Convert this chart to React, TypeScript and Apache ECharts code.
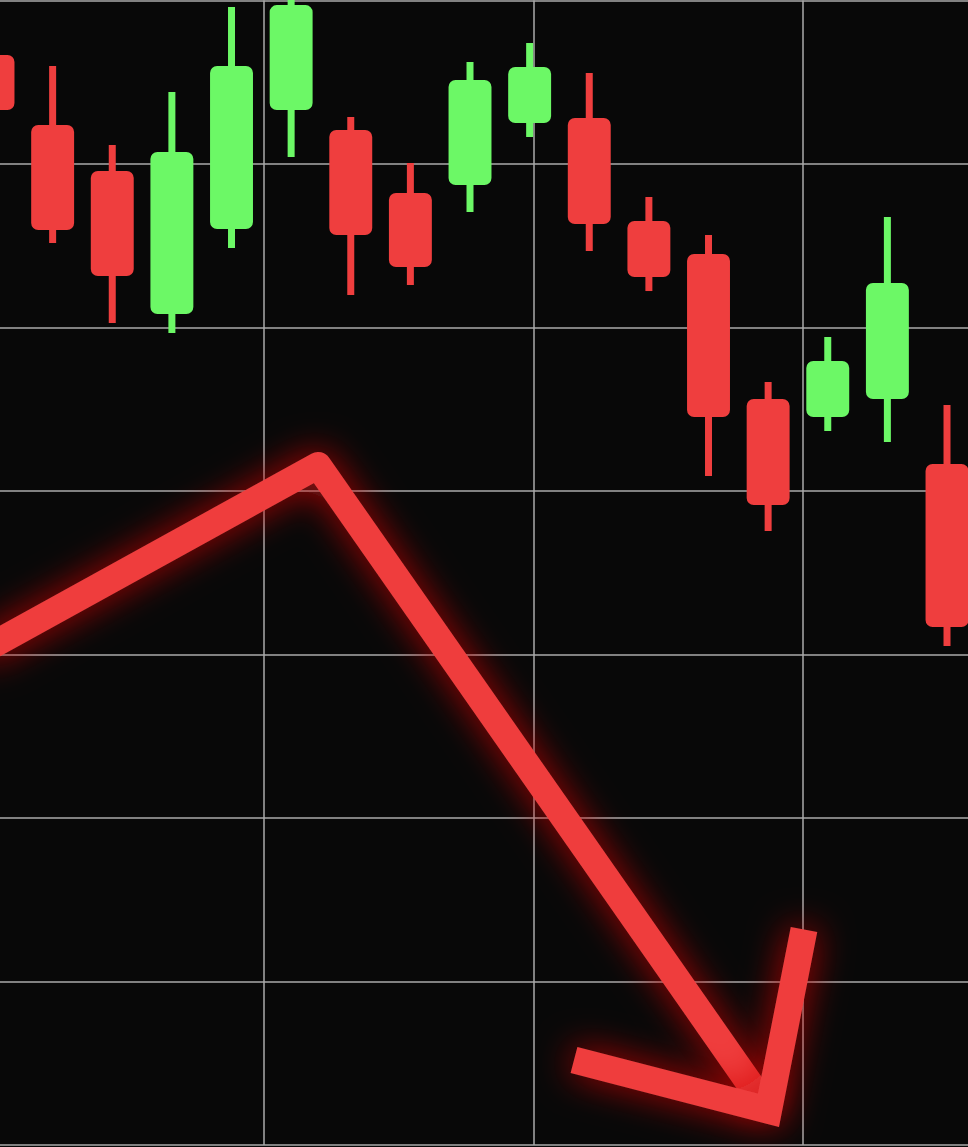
import React, { useEffect, useRef } from "react";
import * as echarts from "echarts";

// Candles: [open, close, low, high]
const categories = ["1", "2", "3", "4", "5", "6", "7", "8", "9", "10", "11", "12", "13", "14", "15", "16", "17"];
const opens = [96.67, 92.39, 89.57, 80.83, 86.02, 93.3, 92.08, 88.23, 88.72, 92.51, 92.81, 86.51, 84.5, 75.63, 74.53, 75.63, 71.65];
const closes = [93.3, 85.96, 83.15, 90.73, 95.99, 99.72, 85.66, 83.7, 95.14, 95.93, 86.33, 83.09, 74.53, 69.14, 77.95, 82.72, 61.68];
const lows = [92.69, 85.17, 80.28, 79.66, 84.86, 90.43, 81.99, 82.6, 87.06, 91.65, 84.68, 82.23, 70.92, 67.55, 73.67, 73.0, 60.52];
const highs = [97.28, 95.99, 91.16, 94.4, 99.6, 100.4, 92.87, 90.06, 96.24, 97.4, 95.57, 87.98, 85.66, 76.67, 79.42, 86.76, 75.26];

const RED = "#ef3e3e";
const GREEN = "#6cf866";
const BG = "#080808";
const GRIDLINE = "#aaaaaa";

// Decorative arrow (annotation, pixel space)
const arrowShaft = [
  [-20, 652],
  [318, 465.5],
  [760.5, 1098.9],
];
const arrowHead = [
  [574, 1060],
  [768.5, 1110.4],
  [804, 929.5],
];

export default function App() {
  const ref = useRef<HTMLDivElement>(null);

  useEffect(() => {
    if (!ref.current) return;
    const chart = echarts.init(ref.current, null, { renderer: "svg" });
    const data = categories.map((_, i) => [i, opens[i], closes[i], lows[i], highs[i]]);

    const band = 59.625;
    const glow = {
      shadowBlur: 36,
      shadowColor: "rgba(210,10,10,0.85)",
    };

    chart.setOption({
      animation: false,
      backgroundColor: BG,
      grid: [
        { left: -36.8, top: 0.5, width: band * 17, height: 1144.5, outerBoundsMode: "none", containLabel: false },
        { left: -5.5, top: 0.5, width: 1078, height: 1144.5, outerBoundsMode: "none", containLabel: false },
      ],
      xAxis: [
        {
          type: "category",
          gridIndex: 0,
          data: categories,
          boundaryGap: true,
          show: false,
        },
        {
          type: "value",
          gridIndex: 1,
          min: 0,
          max: 4,
          interval: 1,
          axisLine: { show: false },
          axisTick: { show: false },
          axisLabel: { show: false },
          splitLine: { show: true, lineStyle: { color: GRIDLINE, width: 1.5 } },
        },
      ],
      yAxis: [
        {
          type: "value",
          gridIndex: 0,
          min: 30,
          max: 100,
          show: false,
          splitLine: { show: false },
        },
        {
          type: "value",
          gridIndex: 1,
          min: 0,
          max: 7,
          interval: 1,
          axisLine: { show: false },
          axisTick: { show: false },
          axisLabel: { show: false },
          splitLine: { show: true, lineStyle: { color: GRIDLINE, width: 1.5 } },
        },
      ],
      series: [
        {
          type: "custom",
          xAxisIndex: 0,
          yAxisIndex: 0,
          clip: false,
          z: 5,
          data,
          encode: { x: 0, y: [1, 2, 3, 4] },
          renderItem: (params: any, api: any) => {
            const x = api.value(0);
            const open = api.value(1);
            const close = api.value(2);
            const low = api.value(3);
            const high = api.value(4);
            const pO = api.coord([x, open]);
            const pC = api.coord([x, close]);
            const pL = api.coord([x, low]);
            const pH = api.coord([x, high]);
            const bw = api.size([1, 0])[0] * 0.72;
            const ww = 7;
            const color = close >= open ? GREEN : RED;
            const top = Math.min(pO[1], pC[1]);
            const bot = Math.max(pO[1], pC[1]);
            return {
              type: "group",
              children: [
                {
                  type: "rect",
                  shape: { x: pH[0] - ww / 2, y: pH[1], width: ww, height: pL[1] - pH[1] },
                  style: { fill: color },
                },
                {
                  type: "rect",
                  shape: { x: pO[0] - bw / 2, y: top, width: bw, height: bot - top, r: 7 },
                  style: { fill: color },
                },
              ],
            };
          },
        },
      ],
      graphic: [
        {
          type: "polyline",
          z: 10,
          shape: { points: arrowShaft },
          style: {
            stroke: RED,
            fill: "none",
            lineWidth: 27,
            lineJoin: "round",
            lineCap: "butt",
            ...glow,
          },
        },
        {
          type: "polyline",
          z: 10,
          shape: { points: arrowHead },
          style: {
            stroke: RED,
            fill: "none",
            lineWidth: 27,
            lineJoin: "miter",
            miterLimit: 10,
            lineCap: "butt",
            ...glow,
          },
        },
      ],
    });

    return () => chart.dispose();
  }, []);

  return (
    <div
      ref={ref}
      style={{ position: "fixed", left: 0, top: 0, width: 968, height: 1147, background: BG }}
    />
  );
}
